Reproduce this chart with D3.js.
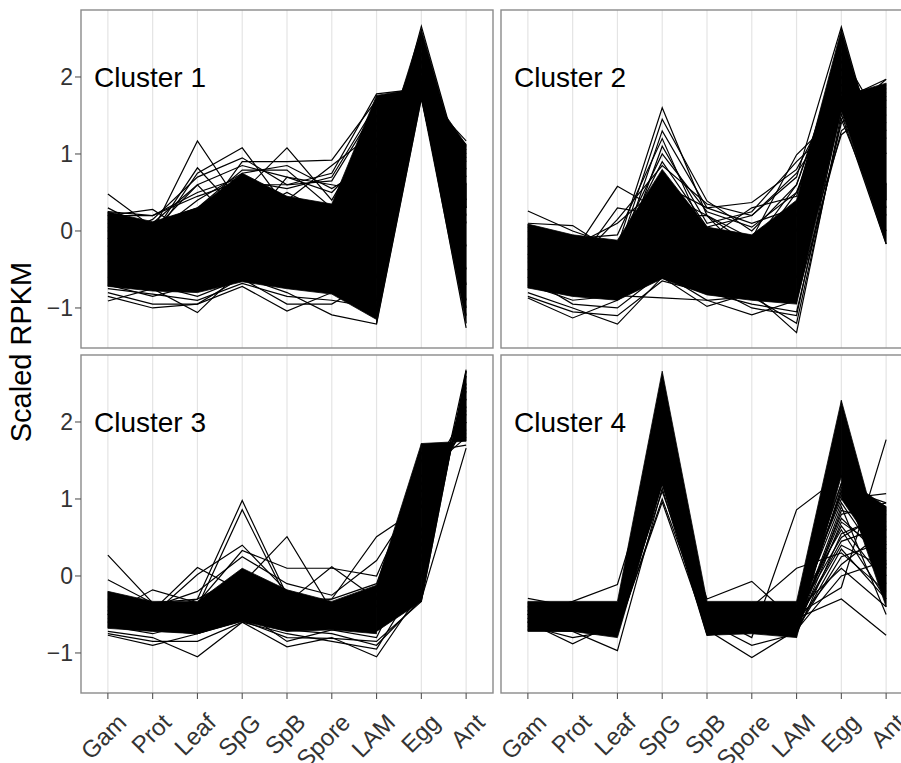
<!DOCTYPE html>
<meta charset="utf-8">
<style>
body { margin: 0; background: #fff; overflow: hidden; }
svg { display: block; }
text { font-family: "Liberation Sans", Arial, Helvetica, sans-serif; }
.grid line { stroke: #e4e4e4; stroke-width: 1.2; }
.border { fill: none; stroke: #8a8a8a; stroke-width: 1.4; }
.tick line { stroke: #555; stroke-width: 1.1; }
.ticklabel { fill: #333; font-size: 23px; }
.xlabel { font-size: 24px; }
.strip { font-size: 28px; fill: #000; }
.band { fill: #000; stroke: #000; stroke-width: 0.8; }
.gene { fill: none; stroke: #000; stroke-width: 1.2; }
</style>
<svg width="901" height="763"></svg>
<script src="https://d3js.org/d3.v7.min.js"></script>
<script>

// samples on the x axis, same order in every panel
var categories = ["Gam", "Prot", "Leaf", "SpG", "SpB", "Spore", "LAM", "Egg", "Ant"];
var yTicks = [-1, 0, 1, 2];
var clusterNames = ["Cluster 1", "Cluster 2", "Cluster 3", "Cluster 4"];

// dense cores of each cluster: [lower, upper] per sample, null = not part of that band
var cluster1Bands = [
  [[-0.72, -0.78, -0.80, -0.66, -0.75, -0.82, -1.15, null, null],
   [ 0.25,  0.12,  0.30,  0.75,  0.45,  0.35,  1.76, null, null]],
  [[null, null, null, null, null, null, -1.20, 1.72, null],
   [null, null, null, null, null, null,  0.76, 2.62, null]],
  [[null, null, null, null, null, null,  0.50, 1.72, null],
   [null, null, null, null, null, null,  1.76, 1.86, null]],
  [[null, null, null, null, null, null, null, 1.72, -1.20],
   [null, null, null, null, null, null, null, 2.62,  0.60]],
  [[null, null, null, null, null, null, null, 1.72,  0.30],
   [null, null, null, null, null, null, null, 1.95,  1.12]]
];
var cluster2Bands = [
  [[-0.74, -0.85, -0.90, -0.62, -0.83, -0.90, -0.95, null, null],
   [ 0.09, -0.05, -0.12,  0.80,  0.05, -0.05,  0.40, null, null]],
  [[null, null, null, null, null, null, -0.95, 1.56, null],
   [null, null, null, null, null, null,  0.40, 2.62, null]],
  [[null, null, null, null, null, null, null, 1.56, -0.17],
   [null, null, null, null, null, null, null, 2.62,  0.60]],
  [[null, null, null, null, null, null, null, 1.56,  0.40],
   [null, null, null, null, null, null, null, 1.75,  1.92]]
];
var cluster3Bands = [
  [[-0.68, -0.72, -0.75, -0.59, -0.72, -0.70, -0.75, null, null],
   [-0.20, -0.33, -0.33,  0.10, -0.18, -0.33, -0.12, null, null]],
  [[null, null, null, null, null, null, -0.72, -0.33, null],
   [null, null, null, null, null, null, -0.12,  1.72, null]],
  [[null, null, null, null, null, null, null, -0.33, 2.66],
   [null, null, null, null, null, null, null,  1.72, 1.75]]
];
var cluster4Bands = [
  [[-0.72, -0.72, -0.80, 1.20, -0.77, -0.75, -0.80, null, null],
   [-0.33, -0.33, -0.33, 2.66, -0.33, -0.33, -0.33, null, null]],
  [[null, null, null, null, null, null, -0.80, 1.30, null],
   [null, null, null, null, null, null, -0.33, 2.28, null]],
  [[null, null, null, null, null, null, null, 1.30, -0.40],
   [null, null, null, null, null, null, null, 2.28,  0.15]],
  [[null, null, null, null, null, null, null, 1.00,  0.15],
   [null, null, null, null, null, null, null, 1.30,  0.90]]
];

// single genes that stick out of the cores
var cluster1Lines = [
  [ 0.48,  0.05,  0.20,  0.60,  0.30,  0.10,  1.20, 1.90,  0.90],
  [ 0.20,  0.28, -0.10,  0.40,  0.20,  0.00,  1.50, 1.85,  1.10],
  [-0.10,  0.00,  1.17,  0.30,  0.10, -0.20,  0.80, 2.30,  0.40],
  [ 0.10, -0.05,  0.82,  0.20,  0.50,  0.20,  1.00, 2.10,  0.70],
  [-0.20, -0.10,  0.75,  1.08,  0.30,  0.10,  0.60, 2.40,  0.20],
  [ 0.00,  0.10,  0.30,  0.79,  0.79,  0.30,  0.20, 2.00, -0.20],
  [-0.30, -0.20,  0.20,  0.50,  1.08,  0.40,  1.40, 1.80,  1.00],
  [ 0.00, -0.10,  0.10,  0.90,  0.90,  0.92,  1.70, 1.80,  1.17],
  [-0.40, -0.30,  0.00,  0.60,  0.60,  0.75,  1.78, 1.85,  1.05],
  [-0.91, -0.75, -1.06, -0.50, -0.60, -0.70, -0.90, 1.75, -1.00],
  [-0.85, -1.00, -0.95, -0.72, -1.04, -0.80, -1.10, 1.80, -1.26],
  [-0.80, -0.95, -0.95, -0.60, -0.80, -1.09, -1.21, 1.72, -0.90],
  [-0.75, -0.82, -0.90, -0.68, -0.85, -0.90, -1.00, 1.90, -0.50],
  [ 0.30,  0.00,  0.60,  0.00,  0.70,  0.60,  0.50, 2.66,  0.60],
  [ 0.20,  0.20,  0.50,  0.70,  0.40,  0.85,  1.30, 2.00,  0.80],
  [ 0.15,  0.10,  0.60,  0.85,  0.70,  0.50,  1.10, 2.20,  0.30],
  [-0.10,  0.15,  0.70,  0.95,  0.60,  0.65,  1.60, 1.90,  0.95],
  [ 0.05, -0.05,  0.40,  0.75,  0.85,  0.55,  0.90, 2.50,  0.10],
  [-0.60, -0.70, -0.85, -0.62, -0.95, -0.95, -0.60, 1.76, -1.10],
  [-0.70, -0.85, -0.70, -0.50, -0.70, -0.75, -1.05, 2.10, -0.70],
  [ 0.25,  0.20,  0.45,  0.65,  0.55,  0.70,  1.65, 1.78,  1.12]
];
var cluster2Lines = [
  [ 0.26,  0.00, -0.20,  0.30, -0.10, -0.20,  0.20, 2.00,  1.50],
  [ 0.10,  0.07, -0.30,  0.50,  0.20, -0.10,  0.99, 1.56,  1.80],
  [-0.20, -0.30,  0.58,  0.25, -0.20, -0.30,  0.50, 1.80,  1.70],
  [-0.40, -0.50, -0.20,  1.60,  0.20, -0.40,  0.00, 2.40,  1.00],
  [-0.30, -0.40, -0.30,  1.45,  0.39,  0.00,  0.60, 2.20,  1.20],
  [-0.50, -0.60, -0.40,  1.30,  0.30,  0.37,  0.80, 1.90,  1.60],
  [-0.60, -0.70, -0.50,  1.10,  0.10,  0.25,  0.90, 1.45,  1.97],
  [-0.87, -1.13, -0.90, -0.50, -0.70, -1.00, -1.10, 1.60,  0.20],
  [-0.80, -1.00, -1.21, -0.60, -0.98, -0.80, -1.32, 1.52, -0.17],
  [-0.70, -0.90, -0.84, -0.87, -0.90, -1.09, -0.90, 1.30,  1.75],
  [-0.85, -1.05, -1.10, -0.65, -0.80, -0.95, -1.05, 1.40,  1.85],
  [-0.20, -0.10, -0.25,  0.90,  0.05,  0.20,  0.70, 2.65,  0.60],
  [ 0.00, -0.20,  0.10,  0.60,  0.30,  0.10,  0.30, 1.70,  1.97],
  [-0.30, -0.50,  0.30,  0.20,  0.20, -0.20,  0.60, 2.30,  1.30],
  [-0.10, -0.30, -0.20,  1.00,  0.25,  0.05,  0.50, 2.10,  1.40],
  [-0.35, -0.45,  0.15,  0.85,  0.35,  0.20,  0.75, 1.65,  1.90],
  [ 0.05, -0.10, -0.05,  1.20, -0.10,  0.30,  0.45, 2.50,  0.30],
  [-0.60, -0.95, -1.00, -0.55, -0.90, -0.85, -1.20, 1.45,  0.00],
  [-0.50, -0.75, -0.80, -0.40, -0.60, -0.70, -0.60, 1.25,  1.70]
];
var cluster3Lines = [
  [ 0.27, -0.35, -0.40, -0.20, -0.40, -0.50, -0.30,  0.50, 2.30],
  [-0.05, -0.35, -0.30,  0.00, -0.30, -0.40, -0.20,  1.00, 2.00],
  [-0.50, -0.18, -0.35, -0.10, -0.40, -0.40, -0.30,  0.30, 2.50],
  [-0.45, -0.45,  0.11, -0.20, -0.30, -0.50, -0.40,  0.60, 2.20],
  [-0.50, -0.50,  0.02,  0.40, -0.20, -0.45, -0.30,  0.90, 2.10],
  [-0.40, -0.50, -0.30,  0.98, -0.25, -0.40, -0.20,  1.20, 1.90],
  [-0.50, -0.60, -0.40,  0.86, -0.30, -0.30, -0.10,  1.50, 1.85],
  [-0.55, -0.60, -0.40, -0.10,  0.51, -0.45, -0.30,  0.20, 2.40],
  [-0.60, -0.50, -0.35,  0.33,  0.10,  0.10,  0.00,  1.30, 1.80],
  [-0.50, -0.55, -0.40, -0.10, -0.35,  0.12, -0.30,  1.60, 1.70],
  [-0.45, -0.50, -0.45, -0.20, -0.40, -0.30,  0.51,  0.90, 2.00],
  [-0.77, -0.90, -0.75, -0.55, -0.70, -0.75, -0.90, -0.30, 1.66],
  [-0.72, -0.80, -1.05, -0.60, -0.92, -0.80, -1.05, -0.20, 2.60],
  [-0.75, -0.85, -0.85, -0.60, -0.75, -0.85, -0.95,  0.00, 2.68],
  [-0.60, -0.70, -0.75, -0.58, -0.80, -0.81, -0.85, -0.33, 2.66],
  [-0.30, -0.40, -0.20,  0.25, -0.10, -0.25,  0.20,  1.10, 2.15],
  [-0.65, -0.75, -0.60, -0.45, -0.85, -0.70, -0.80,  0.40, 2.45]
];
var cluster4Lines = [
  [-0.29, -0.40, -0.50, 2.00, -0.40, -0.50, -0.50,  1.20,  0.90],
  [-0.50, -0.33, -0.11, 1.80, -0.50, -0.60, -0.60,  1.10,  0.50],
  [-0.60, -0.88, -0.60, 1.50, -0.60, -0.50, -0.40,  1.00,  1.07],
  [-0.70, -0.72, -0.97, 1.14, -0.77, -0.70, -0.70,  0.85,  0.70],
  [-0.65, -0.80, -0.70, 0.96, -0.70, -1.06, -0.70,  0.70,  0.30],
  [-0.60, -0.60, -0.70, 1.00, -0.60, -0.90, -0.75,  0.55,  0.80],
  [-0.50, -0.50, -0.50, 1.30, -0.30, -0.07, -0.60,  0.40,  0.10],
  [-0.45, -0.55, -0.60, 1.60, -0.50, -0.80,  0.86,  1.30,  0.40],
  [-0.55, -0.60, -0.55, 1.70, -0.50, -0.40,  0.10,  0.30, -0.20],
  [-0.40, -0.50, -0.45, 2.20, -0.60, -0.55, -0.60,  0.15,  0.60],
  [-0.70, -0.70, -0.75, 1.20, -0.75, -0.70, -0.70,  0.00,  0.20],
  [-0.50, -0.60, -0.60, 1.90, -0.45, -0.50, -0.50, -0.15,  1.77],
  [-0.60, -0.50, -0.50, 1.40, -0.50, -0.60, -0.55, -0.30, -0.77],
  [-0.35, -0.40, -0.40, 2.50, -0.40, -0.40, -0.40,  0.60, -0.30],
  [-0.55, -0.65, -0.60, 1.10, -0.55, -0.70, -0.65,  0.90, -0.50],
  [-0.50, -0.55, -0.50, 1.50, -0.65, -0.60, -0.50,  1.20,  0.00],
  [-0.45, -0.50, -0.55, 1.80, -0.50, -0.50, -0.45,  1.05,  0.35],
  [-0.60, -0.65, -0.65, 1.40, -0.60, -0.65, -0.60,  0.80,  0.95],
  [-0.50, -0.60, -0.60, 2.10, -0.55, -0.60, -0.55,  0.65, -0.10],
  [-0.55, -0.55, -0.60, 1.60, -0.60, -0.55, -0.60,  0.45,  0.65],
  [-0.65, -0.70, -0.70, 1.25, -0.70, -0.70, -0.70,  0.25,  0.45],
  [-0.40, -0.45, -0.50, 2.30, -0.45, -0.50, -0.45,  0.10, -0.40],
  [-0.60, -0.60, -0.65, 1.70, -0.60, -0.60, -0.65,  1.15,  0.95],
  [-0.50, -0.55, -0.55, 1.95, -0.50, -0.50, -0.50,  0.95,  0.10],
  [-0.55, -0.60, -0.60, 1.30, -0.60, -0.60, -0.60,  0.75,  0.20],
  [-0.45, -0.55, -0.50, 2.00, -0.55, -0.55, -0.50,  0.50,  0.85],
  [-0.60, -0.65, -0.70, 1.55, -0.65, -0.65, -0.70,  0.35, -0.30],
  [-0.50, -0.50, -0.55, 1.85, -0.50, -0.55, -0.55,  1.10,  0.60]
];

var clusterBands = [cluster1Bands, cluster2Bands, cluster3Bands, cluster4Bands];
var clusterLines = [cluster1Lines, cluster2Lines, cluster3Lines, cluster4Lines];

var svg = d3.select("svg");

// facet layout (2 x 2), right column runs past the picture edge like the original
var panelW = 412, panelH = 338;
var panelPos = [[81, 10], [501, 10], [81, 355], [501, 355]];

var x = d3.scalePoint().domain(categories).range([0, panelW]).padding(0.6);
var y = d3.scaleLinear().domain([-1.52, 2.87]).range([panelH, 0]);

var area = d3.area()
    .defined(function(d) { return d.lo != null && d.hi != null; })
    .x(function(d) { return x(d.cat); })
    .y0(function(d) { return y(d.lo); })
    .y1(function(d) { return y(d.hi); });

var line = d3.line()
    .x(function(d, i) { return x(categories[i]); })
    .y(function(d) { return y(d); });

var fmt = d3.format("d");

clusterNames.forEach(function(name, k) {
  var g = svg.append("g")
      .attr("transform", "translate(" + panelPos[k][0] + "," + panelPos[k][1] + ")");

  g.append("clipPath").attr("id", "clip" + k)
    .append("rect").attr("width", panelW).attr("height", panelH);

  var inner = g.append("g").attr("clip-path", "url(#clip" + k + ")");

  // vertical grid only
  inner.append("g").attr("class", "grid")
    .selectAll("line").data(categories).enter().append("line")
      .attr("x1", function(d) { return x(d); })
      .attr("x2", function(d) { return x(d); })
      .attr("y1", 0).attr("y2", panelH);

  inner.append("g").selectAll("path").data(clusterBands[k]).enter().append("path")
      .attr("class", "band")
      .attr("d", function(b) {
        return area(categories.map(function(c, i) { return {cat: c, lo: b[0][i], hi: b[1][i]}; }));
      });

  inner.append("g").selectAll("path").data(clusterLines[k]).enter().append("path")
      .attr("class", "gene")
      .attr("d", line);

  g.append("text").attr("class", "strip")
      .attr("x", 13).attr("y", 77)
      .text(name);

  g.append("rect").attr("class", "border")
      .attr("width", panelW).attr("height", panelH);

  // y axis on the left column
  if (k % 2 === 0) {
    var yt = g.append("g").selectAll("g").data(yTicks).enter().append("g")
        .attr("class", "tick")
        .attr("transform", function(d) { return "translate(0," + y(d) + ")"; });
    yt.append("line").attr("x1", -6).attr("x2", 0);
    yt.append("text").attr("class", "ticklabel")
        .attr("x", -8).attr("dy", "0.36em")
        .attr("text-anchor", "end")
        .text(fmt);
  }

  // x axis on the bottom row
  if (k >= 2) {
    var xt = g.append("g").selectAll("g").data(categories).enter().append("g")
        .attr("class", "tick")
        .attr("transform", function(d) { return "translate(" + x(d) + "," + panelH + ")"; });
    xt.append("line").attr("y1", 0).attr("y2", 6);
    xt.append("text").attr("class", "ticklabel xlabel")
        .attr("text-anchor", "end")
        .attr("transform", "translate(20,31) rotate(-45)")
        .text(function(d) { return d; });
  }
});

svg.append("text")
    .attr("transform", "translate(31,352) rotate(-90)")
    .attr("text-anchor", "middle")
    .style("font-size", "29px")
    .text("Scaled RPKM");

</script>
